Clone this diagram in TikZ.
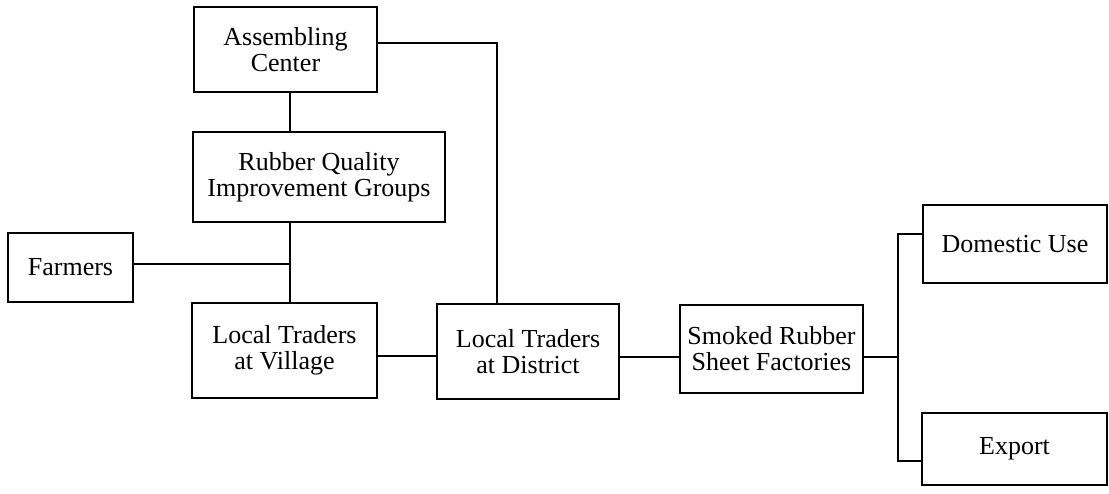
\documentclass[tikz,border=0pt]{standalone}
\usepackage{fontspec}
\setmainfont{Liberation Serif}
\begin{document}
\begin{tikzpicture}[x=1pt,y=-1pt,
  box/.style={draw, line width=1.8pt, inner sep=0pt, align=center,
    font=\fontsize{26}{26}\selectfont},
  link/.style={line width=1.8pt}]
\useasboundingbox (0,0) rectangle (1109,494);

% boxes of the marketing channel
\node[box, minimum width=183pt, minimum height=85pt] (ac) at (285.5,49.5) {Assembling\\Center};
\node[box, minimum width=252pt, minimum height=90pt] (rq) at (319,177) {Rubber Quality\\Improvement Groups};
\node[box, minimum width=125pt, minimum height=69pt] (fa) at (70.5,267.5) {Farmers};
\node[box, minimum width=185pt, minimum height=95pt] (ltv) at (284.5,350.5) {Local Traders\\at Village};
\node[box, minimum width=182pt, minimum height=95pt] (ltd) at (528,351.5) {Local Traders\\at District};
\node[box, minimum width=183pt, minimum height=88pt] (srsf) at (771.5,349) {Smoked Rubber\\Sheet Factories};
\node[box, minimum width=184pt, minimum height=78pt] (dom) at (1015,244) {Domestic Use};
\node[box, minimum width=185pt, minimum height=72pt] (exp) at (1014.5,449) {Export};

% junction points
\coordinate (jv) at (290,264);
\coordinate (sp) at (898,357);

% connectors
\draw[link] ([xshift=4.5pt]ac.south) -- ([xshift=4.5pt]ac.south |- rq.north);
\draw[link] ([xshift=5.5pt]ltv.north) -- ([xshift=5.5pt]ltv.north |- rq.south);
\draw[link] ([yshift=3.5pt]fa.east) -- (jv);
\draw[link] ([yshift=6.5pt]ac.east) -| ([xshift=-31pt]ltd.north);
\draw[link] ([yshift=-5.5pt]ltv.east) -- ([yshift=-5.5pt]ltv.east -| ltd.west);
\draw[link] ([yshift=-5.5pt]ltd.east) -- ([yshift=-5.5pt]ltd.east -| srsf.west);
\draw[link] ([yshift=-8pt]srsf.east) -- (sp);
\draw[link] (sp) |- ([yshift=10pt]dom.west);
\draw[link] (sp) |- ([yshift=-12pt]exp.west);
\end{tikzpicture}
\end{document}
